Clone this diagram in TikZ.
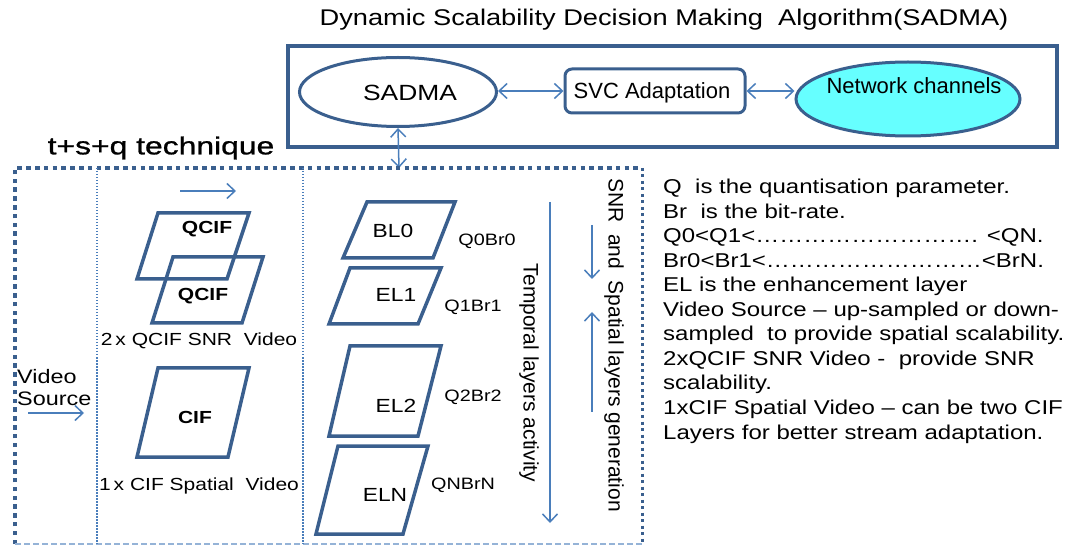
\documentclass[tikz,border=0pt]{standalone}
\usepackage{fontspec}
\setmainfont{Liberation Sans}[FakeStretch=1.2]
\newfontfamily\plainfont{Liberation Sans}
\newfontfamily\techfont{Liberation Sans}[FakeStretch=1.3, FakeBold=1.0]
\usetikzlibrary{shapes.geometric,arrows.meta}
\definecolor{dkblue}{HTML}{3A5F8E}
\definecolor{arrblue}{HTML}{4A7EBB}
\definecolor{ltblue}{HTML}{95B3D7}
\definecolor{cyanfill}{HTML}{66FFFF}
\tikzset{
  framebox/.style={draw=dkblue, line width=3.5pt},
  para/.style={draw=dkblue, line width=3.5pt, line join=miter},
  conn/.style={draw=arrblue, line width=1.5pt, arrows={-Straight Barb[length=8pt,width=15pt]}},
  biconn/.style={draw=arrblue, line width=1.5pt, arrows={Straight Barb[length=8pt,width=15pt]-Straight Barb[length=8pt,width=15pt]}},
  txt/.style={inner sep=0pt, text=black},
  rtxt/.style={inner sep=0pt, text=black, anchor=base west, font=\fontsize{20}{24}\selectfont},
  lbl/.style={inner sep=0pt, text=black, font=\fontsize{19}{22}\selectfont},
  qlbl/.style={inner sep=0pt, text=black, font=\fontsize{16.5}{20}\selectfont},
  blbl/.style={inner sep=0pt, text=black, font=\fontsize{17.5}{20}\selectfont\bfseries},
}
\begin{document}
\begin{tikzpicture}[x=1pt,y=-1pt]
\useasboundingbox (0,0) rectangle (1085,545);

% title
\node[txt, font=\fontsize{22.7}{24}\selectfont] (title) at (664,20) {Dynamic Scalability Decision Making\ \ Algorithm(SADMA)};

% top frame
\draw[framebox] (288,46) rectangle (1057,147);
\node[ellipse, draw=dkblue, line width=3pt, minimum width=197pt, minimum height=69pt, inner sep=0pt] (sad) at (398,92) {};
\node[txt, font=\fontsize{22}{24}\selectfont] (sadtxt) at (410,93) {SADMA};
\node[draw=dkblue, line width=3pt, rounded corners=7pt, minimum width=180pt, minimum height=44pt, inner sep=0pt] (svc) at (655,91) {};
\node[txt, font=\plainfont\fontsize{22}{24}\selectfont] (svctxt) at (652,93) {SVC Adaptation};
\node[ellipse, draw=dkblue, fill=cyanfill, line width=3pt, minimum width=224pt, minimum height=74pt, inner sep=0pt] (net) at (908,99) {};
\node[txt, font=\plainfont\fontsize{22}{24}\selectfont] (nettxt) at (914,86) {Network channels};

\draw[biconn] (svc.west -| sad.east) -- (svc.west);
\draw[biconn] (svc.east) -- (net.west |- svc.east);
\coordinate (dtop) at (399,168);
\draw[biconn] (sad.south) -- (dtop);

% technique label
\node[txt, font=\techfont\fontsize{24.5}{26}\selectfont] (tech) at (161,148) {t+s+q technique};

% dotted frame
\draw[draw=dkblue, line width=4.5pt, dash pattern=on 4.5pt off 4.3pt] (15,544) -- (15,168) -- (642,168);
\draw[draw=dkblue, line width=3pt, dash pattern=on 3pt off 3.5pt] (642,168) -- (642,544);
\draw[draw=ltblue, line width=2pt, dash pattern=on 6pt off 3pt] (15,544) -- (642,544);
\draw[draw=arrblue, line width=1.5pt, dash pattern=on 1.5pt off 1.5pt] (97,168) -- (97,544);
\draw[draw=arrblue, line width=1.5pt, dash pattern=on 1.5pt off 1.5pt] (303,168) -- (303,544);

% video source
\node[txt, anchor=west, font=\fontsize{19.5}{22}\selectfont] (vid) at (17,377) {Video};
\node[txt, anchor=west, font=\fontsize{19.5}{22}\selectfont] (src) at (17,399) {Source};
\coordinate (vsa) at (28,413);
\coordinate (vsb) at (84,413);
\draw[conn] (vsa) -- (vsb);

% column 2
\coordinate (ta) at (180,191);
\coordinate (tb) at (236,191);
\draw[conn] (ta) -- (tb);
\draw[para] (158,213) -- (249,213) -- (227,279) -- (137,279) -- cycle;
\draw[para] (173,257) -- (263,257) -- (242,323) -- (152,323) -- cycle;
\node[blbl] (q1) at (207,229) {QCIF};
\node[blbl] (q2) at (203,296) {QCIF};
\node[lbl, font=\fontsize{17.5}{20}\selectfont] (snrv) at (199,341) {2\,x QCIF SNR\ \ Video};
\draw[para] (158,368) -- (249,368) -- (228,457) -- (137,457) -- cycle;
\node[blbl] (cif) at (195,417) {CIF};
\node[lbl, font=\fontsize{17.5}{20}\selectfont] (cifv) at (199,486) {1\,x CIF Spatial\ \ Video};

% column 3
\draw[para] (367,202) -- (455,202) -- (433,258) -- (343,258) -- cycle;
\node[lbl] (bl0) at (393,231) {BL0};
\node[qlbl] (qb0) at (487,241) {Q0Br0};
\draw[para] (350,268) -- (441,268) -- (418,324) -- (329,324) -- cycle;
\node[lbl] (el1) at (396,295) {EL1};
\node[qlbl] (qb1) at (473,307) {Q1Br1};
\draw[para] (350,346) -- (441,346) -- (418,436) -- (329,436) -- cycle;
\node[lbl] (el2) at (396,406) {EL2};
\node[qlbl] (qb2) at (473,397) {Q2Br2};
\draw[para] (338,446) -- (428,446) -- (403,534) -- (316,534) -- cycle;
\node[lbl] (eln) at (385,495) {ELN};
\node[qlbl] (qbn) at (463,485) {QNBrN};

\coordinate (tpa) at (550,202);
\coordinate (tpb) at (550,523);
\draw[conn] (tpa) -- (tpb);
\node[txt, rotate=-90, font=\plainfont\fontsize{21}{24}\selectfont] (temp) at (529,373) {Temporal layers activity};
\node[txt, rotate=-90, font=\plainfont\fontsize{21}{24}\selectfont] (spat) at (614,345) {SNR\ \ and\ \ Spatial layers generation};
\coordinate (sda) at (592,225);
\coordinate (sdb) at (592,279);
\draw[conn] (sda) -- (sdb);
\coordinate (sua) at (592,412);
\coordinate (sub) at (592,312);
\draw[conn] (sua) -- (sub);

% right text
\node[rtxt] (r1) at (663,194) {Q\ \ is the quantisation parameter.};
\node[rtxt] (r2) at (663,218.5) {Br\ \ is the bit-rate.};
\node[rtxt] (r3) at (663,243) {Q0<Q1<………………………. <QN.};
\node[rtxt] (r4) at (663,267.5) {Br0<Br1<………………………<BrN.};
\node[rtxt] (r5) at (663,292) {EL is the enhancement layer};
\node[rtxt] (r6) at (663,316.5) {Video Source – up-sampled or down-};
\node[rtxt] (r7) at (663,341) {sampled\ \ to provide spatial scalability.};
\node[rtxt] (r8) at (663,365.5) {2xQCIF SNR Video -\ \ provide SNR};
\node[rtxt] (r9) at (663,390) {scalability.};
\node[rtxt] (r10) at (663,414.5) {1xCIF Spatial Video – can be two CIF};
\node[rtxt] (r11) at (663,439) {Layers for better stream adaptation.};
\end{tikzpicture}
\end{document}
